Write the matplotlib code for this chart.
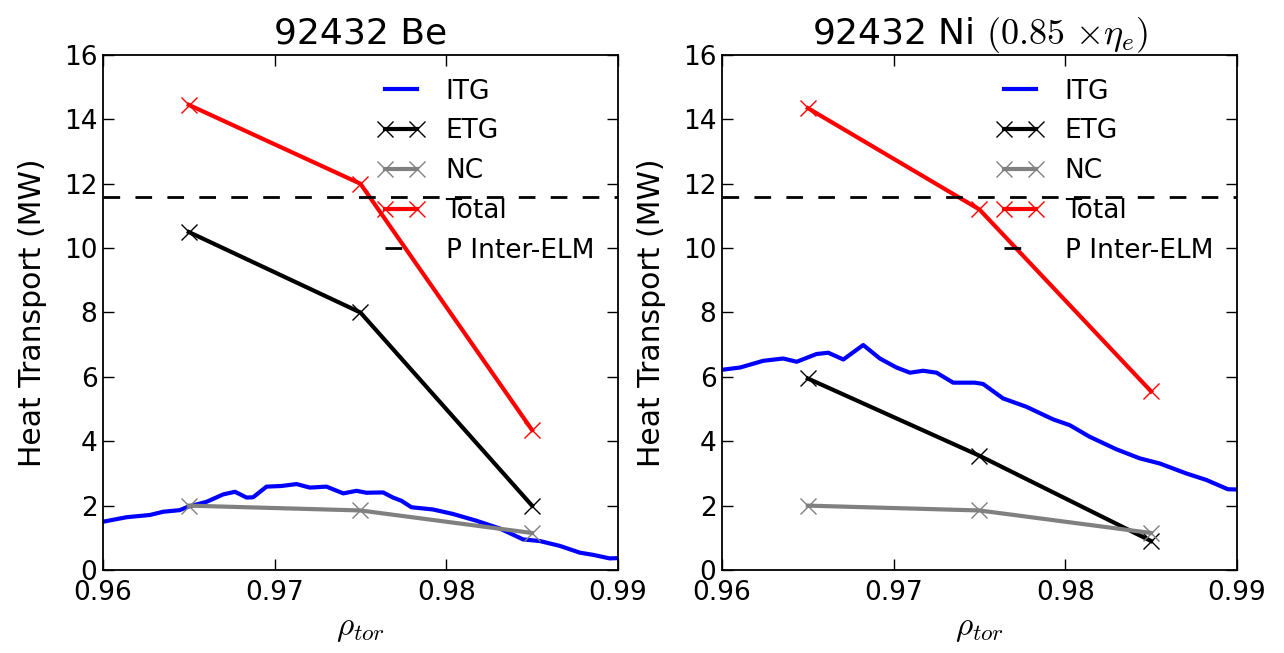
import numpy as np
import matplotlib
matplotlib.use('Agg')
import matplotlib.pyplot as plt

plt.rcParams['mathtext.fontset'] = 'cm'
plt.rcParams['font.family'] = 'DejaVu Sans'

# flux-surface positions for the GENE runs
rho_runs = [0.965, 0.975, 0.985]

# 92432 Be
be_etg = [10.5, 8.0, 2.0]
be_nc = [2.0, 1.85, 1.15]
be_total = [14.45, 12.0, 4.35]
be_itg_rho = [0.96, 0.96138, 0.96274, 0.96351, 0.96448, 0.96497, 0.96604, 0.96701, 0.96769,
              0.96837, 0.96875, 0.96953, 0.9704, 0.97128, 0.97205, 0.97302, 0.974, 0.97477,
              0.97535, 0.97632, 0.9769, 0.97739, 0.97797, 0.97923, 0.9804, 0.98176, 0.98312,
              0.98448, 0.98545, 0.98661, 0.98778, 0.98856, 0.98953, 0.99]
be_itg = [1.50, 1.64, 1.71, 1.81, 1.86, 1.97, 2.12, 2.35, 2.43,
          2.25, 2.26, 2.59, 2.61, 2.67, 2.56, 2.59, 2.38, 2.46,
          2.40, 2.41, 2.25, 2.15, 1.95, 1.88, 1.74, 1.53, 1.29,
          0.95, 0.90, 0.75, 0.54, 0.47, 0.36, 0.37]

# 92432 Ni (0.85 x eta_e)
ni_etg = [5.95, 3.55, 0.9]
ni_nc = [2.0, 1.85, 1.15]
ni_total = [14.35, 11.2, 5.55]
ni_itg_rho = [0.96, 0.96105, 0.96241, 0.96357, 0.96435, 0.96551, 0.96619, 0.96707, 0.96823,
              0.9692, 0.97017, 0.97095, 0.97172, 0.9725, 0.97347, 0.97473, 0.97521, 0.97638,
              0.97774, 0.97929, 0.98026, 0.98142, 0.98298, 0.98433, 0.9855, 0.98705, 0.98821,
              0.98947, 0.99]
ni_itg = [6.22, 6.29, 6.50, 6.57, 6.47, 6.71, 6.75, 6.54, 6.99,
          6.57, 6.29, 6.13, 6.19, 6.13, 5.82, 5.82, 5.78, 5.33,
          5.07, 4.68, 4.50, 4.14, 3.75, 3.47, 3.31, 3.00, 2.80,
          2.51, 2.50]

p_inter_elm = 11.6

panels = [
    ('92432 Be', be_itg_rho, be_itg, be_etg, be_nc, be_total),
    (r'92432 Ni $(0.85\ {\times}\eta_e)$', ni_itg_rho, ni_itg, ni_etg, ni_nc, ni_total),
]

fig = plt.figure(figsize=(12.84, 6.53), dpi=100)
lefts = [0.0802, 0.5623]

for left, (title, irho, itg, etg, nc, tot) in zip(lefts, panels):
    ax = fig.add_axes([left, 0.1271, 0.401, 0.7887])
    ax.plot(irho, itg, color='b', lw=3, label='ITG')
    ax.plot(rho_runs, etg, color='k', lw=3, marker='x', ms=12, mew=1, label='ETG')
    ax.plot(rho_runs, nc, color='gray', lw=3, marker='x', ms=12, mew=1, label='NC')
    ax.plot(rho_runs, tot, color='r', lw=3, marker='x', ms=12, mew=1, label='Total')
    ax.axhline(p_inter_elm, color='k', lw=2, dashes=(6, 5.5), label='P Inter-ELM')

    ax.set_xlim(0.96, 0.99)
    ax.set_ylim(0, 16)
    ax.set_xticks([0.96, 0.97, 0.98, 0.99])
    ax.set_xticklabels(['0.96', '0.97', '0.98', '0.99'])
    ax.set_yticks(range(0, 17, 2))
    ax.tick_params(direction='in', length=8, width=1, top=True, right=True,
                   labelsize=19)
    ax.tick_params(axis='x', pad=7)
    ax.tick_params(axis='y', pad=4)
    for sp in ax.spines.values():
        sp.set_linewidth(1.3)
    ax.set_xlabel(r'$\rho_{tor}$', fontsize=24, labelpad=4)
    ax.set_ylabel('Heat Transport (MW)', fontsize=21.5, labelpad=12)
    ax.set_title(title, fontsize=26, pad=8)
    ax.legend(loc='upper right', frameon=False, numpoints=2, fontsize=19,
              handlelength=1.8, labelspacing=0.52, handletextpad=0.8,
              bbox_to_anchor=(1.0, 1.0))

fig.savefig('out.png', dpi=100)
